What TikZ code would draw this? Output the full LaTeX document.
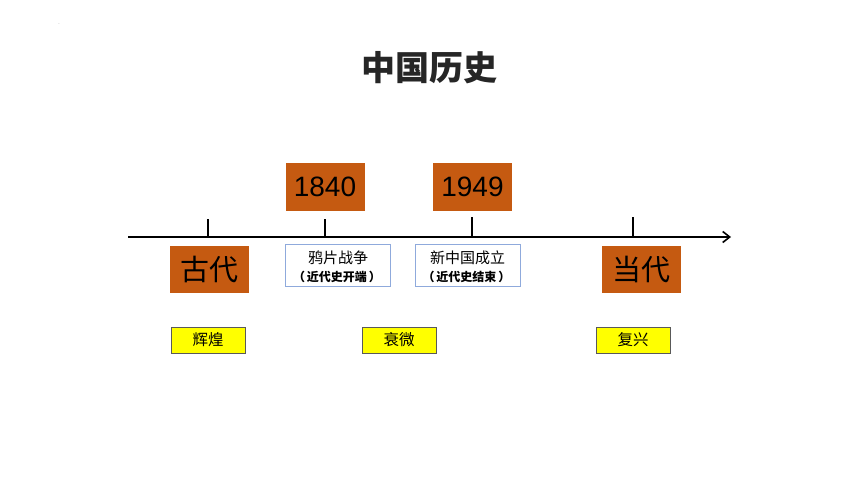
\documentclass[tikz,border=0pt]{standalone}
\usepackage{fontspec}
\setmainfont{Liberation Sans}
\newfontfamily\cjk{Noto Sans CJK SC}
\usetikzlibrary{arrows.meta}
\definecolor{ppOrange}{HTML}{C55A11}
\definecolor{ppBlue}{HTML}{8FAADC}
\definecolor{ppYellow}{HTML}{FFFF00}
\definecolor{ppTitle}{HTML}{262626}
\tikzset{
  datebox/.style={fill=ppOrange, draw=none, minimum width=79pt, minimum height=48pt, inner sep=0pt, font=\fontsize{28}{28}\selectfont, text=black},
  erabox/.style={fill=ppOrange, draw=none, minimum width=79pt, minimum height=47pt, inner sep=0pt, font=\cjk\fontsize{29}{29}\selectfont, text=black},
  eventbox/.style={fill=white, draw=ppBlue, line width=0.8pt, minimum width=105pt, minimum height=42pt, inner sep=0pt, align=center},
  eventtitle/.style={font=\cjk\fontsize{15}{15}\selectfont, inner sep=0pt},
  eventnote/.style={font=\cjk\bfseries\fontsize{12}{12}\selectfont, inner sep=0pt},
  moodbox/.style={fill=ppYellow, draw=black!65, line width=0.8pt, minimum width=74pt, minimum height=26pt, inner sep=0pt, font=\cjk\fontsize{15.5}{15.5}\selectfont},
  tickline/.style={line width=1.6pt, black},
}
\begin{document}
\begin{tikzpicture}[x=1pt,y=-1pt]
\useasboundingbox (0,0) rectangle (860,484);
\node[font=\fontsize{5}{5}\selectfont, text=black!50, inner sep=0pt] (dot) at (59,24) {.};
\node[font=\cjk\bfseries\fontsize{34}{34}\selectfont, text=ppTitle] (title) at (429,68) {中国历史};
% axis
\coordinate (axL) at (128,237);
\coordinate (axR) at (731,237);
\draw[line width=2pt, -{Straight Barb[length=7pt,width=11pt,line width=1.6pt]}] (axL) -- (axR);
% ticks
\draw[tickline] (208,219) -- (208,237);
\draw[tickline] (325,219) -- (325,237);
\draw[tickline] (472,217) -- (472,237);
\draw[tickline] (633,217) -- (633,237);
% date boxes
\node[datebox] (d1840) at (325,187) {1840};
\node[datebox] (d1949) at (472.5,187) {1949};
% era boxes
\node[erabox] (gudai) at (209.5,269.5) {古代};
\node[erabox] (dangdai) at (641.5,269.5) {当代};
% event boxes
\node[eventbox] (yapian) at (338,265) {};
\node[eventtitle] (yapianT) at (338,258) {鸦片战争};
\node[eventnote] (yapianS) at (337,276.5) {（\,近代史开端\,）};
\node[eventbox] (xinzg) at (467.5,265) {};
\node[eventtitle] (xinzgT) at (467.5,258) {新中国成立};
\node[eventnote] (xinzgS) at (466.5,276.5) {（\,近代史结束\,）};
% mood boxes
\node[moodbox] (huihuang) at (208,340) {辉煌};
\node[moodbox] (shuaiwei) at (399,340) {衰微};
\node[moodbox] (fuxing) at (633,340) {复兴};
\end{tikzpicture}
\end{document}
